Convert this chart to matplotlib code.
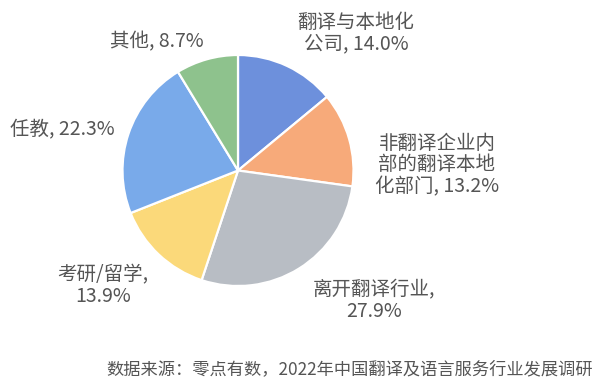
import matplotlib
matplotlib.use("Agg")
import matplotlib.pyplot as plt

plt.rcParams['font.family'] = ['Noto Sans CJK SC', 'DejaVu Sans']

labels = ["翻译与本地化\n公司", "非翻译企业内\n部的翻译本地\n化部门", "离开翻译行业",
          "考研/留学", "任教", "其他"]
values = [14.0, 13.2, 27.9, 13.9, 22.3, 8.7]
colors = ["#6d90dc", "#f7aa7a", "#b8bdc4", "#fbd97a", "#79aaea", "#8ec28d"]
label_text = ["翻译与本地化\n公司, 14.0%", "非翻译企业内\n部的翻译本地\n化部门, 13.2%",
              "离开翻译行业,\n27.9%", "考研/留学,\n13.9%", "任教, 22.3%", "其他, 8.7%"]
# label centres in pixels (x from left, y from top)
label_pos = [(356, 33), (437, 165), (374, 301), (103, 286), (62, 130), (157, 42)]
source = "数据来源：零点有数，2022年中国翻译及语言服务行业发展调研"

W, H = 600, 391
cx, cy, r = 238, 170.5, 115.5

fig = plt.figure(figsize=(W / 100, H / 100), dpi=100)
ax = fig.add_axes([0, 0, 1, 1])
ax.pie(values, colors=colors, startangle=90, counterclock=False, radius=1,
       wedgeprops=dict(edgecolor="white", linewidth=1.6))
ax.set_xlim(-cx / r, (W - cx) / r)
ax.set_ylim(-(H - cy) / r, cy / r)
ax.set_aspect("equal")
ax.axis("off")

for txt, (px, py) in zip(label_text, label_pos):
    ax.text((px - cx) / r, (cy - py) / r, txt, ha="center", va="center",
            fontsize=14, color="#555555", linespacing=1.05)

fig.text(350 / W, 1 - 369 / H, source, ha="center", va="center",
         fontsize=12.4, color="#555555")

fig.savefig("out.png", dpi=100)
